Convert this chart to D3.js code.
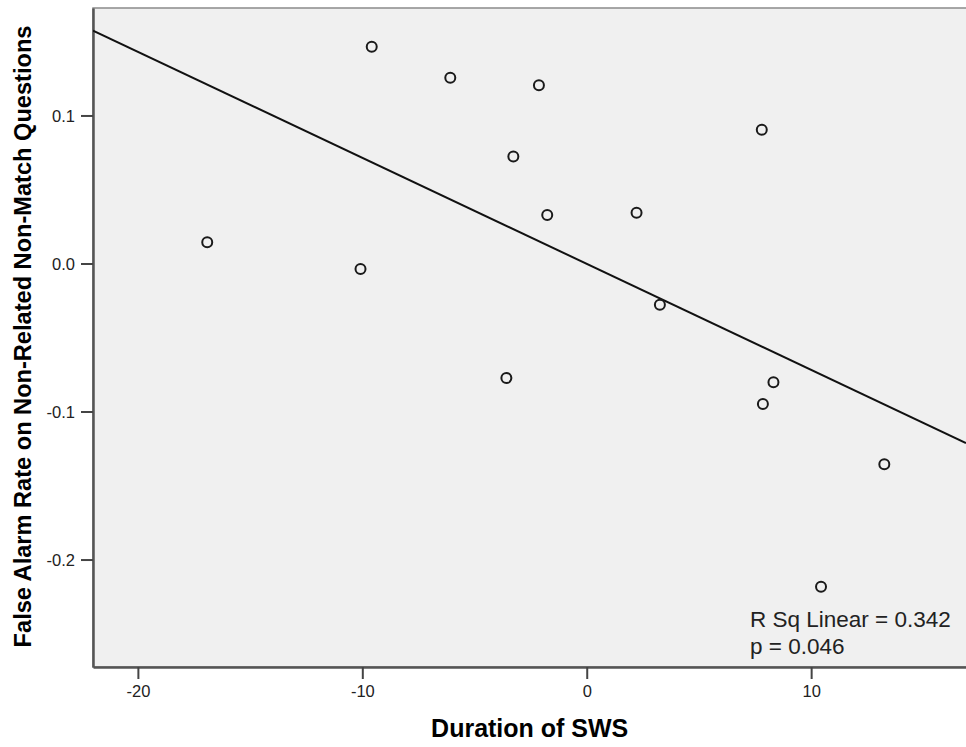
<!DOCTYPE html>
<html>
<head>
<meta charset="utf-8">
<script src="https://cdn.jsdelivr.net/npm/d3@7"></script>
<style>
  html, body { margin: 0; padding: 0; background: #ffffff; }
  svg { display: block; font-family: "Liberation Sans", Arial, sans-serif; }
</style>
</head>
<body>
<svg id="chart" width="966" height="747"></svg>
<script>
// ---- data ----
const swsDuration = [-9.58, -6.08, -2.13, -3.27, -1.76, 7.80, 2.22, -16.91, -10.08, 3.26, -3.58, 8.32, 7.85, 13.26, 10.44];
const falseAlarm  = [0.1465, 0.1255, 0.1204, 0.0722, 0.0328, 0.0904, 0.0343, 0.0143, -0.0037, -0.0278, -0.0774, -0.0803, -0.0949, -0.1357, -0.2184];
const xTicks = [-20, -10, 0, 10];
const yTicks = [0.1, 0.0, -0.1, -0.2];
const xDomain = [-22, 16.9];
const yDomain = [-0.2726, 0.1726];
const xTitle = "Duration of SWS";
const yTitle = "False Alarm Rate on Non-Related Non-Match Questions";
const annotation = ["R Sq Linear = 0.342", "p = 0.046"];

const svg = d3.select("#chart");
const plot = { left: 93, right: 966, top: 8, bottom: 667 };

const x = d3.scaleLinear().domain(xDomain).range([plot.left, plot.right]);
const y = d3.scaleLinear().domain(yDomain).range([plot.bottom, plot.top]);

const hyphen = f => d => f(d).replace("\u2212", "-");

// plot background
svg.append("rect")
  .attr("x", plot.left).attr("y", plot.top)
  .attr("width", plot.right - plot.left + 10)
  .attr("height", plot.bottom - plot.top)
  .attr("fill", "#f0f0f0")
  .attr("stroke", "#8a8a8a")
  .attr("stroke-width", 1.5);

svg.append("defs").append("clipPath").attr("id", "clip")
  .append("rect")
  .attr("x", plot.left).attr("y", plot.top)
  .attr("width", plot.right - plot.left)
  .attr("height", plot.bottom - plot.top);

// axes
const xAxis = d3.axisBottom(x).tickValues(xTicks).tickSize(12).tickSizeOuter(0).tickPadding(6).tickFormat(hyphen(d3.format("d")));
const yAxis = d3.axisLeft(y).tickValues(yTicks).tickSize(12).tickSizeOuter(0).tickPadding(6).tickFormat(hyphen(d3.format(".1f")));

const gx = svg.append("g").attr("transform", `translate(0,${plot.bottom})`).call(xAxis);
const gy = svg.append("g").attr("transform", `translate(${plot.left},0)`).call(yAxis);

[gx, gy].forEach(g => {
  g.select(".domain").attr("stroke", "#555").attr("stroke-width", 2.5);
  g.selectAll(".tick line").attr("stroke", "#444").attr("stroke-width", 2);
  g.selectAll(".tick text")
    .attr("fill", "#222")
    .style("font-size", "16.5px")
    .style("font-family", "'Liberation Sans', Arial, sans-serif");
});
gy.selectAll(".tick text").attr("dy", "0.36em");

// regression line (OLS computed from data)
const mx = d3.mean(swsDuration), my = d3.mean(falseAlarm);
let sxy = 0, sxx = 0;
swsDuration.forEach((v, i) => { sxy += (v - mx) * (falseAlarm[i] - my); sxx += (v - mx) * (v - mx); });
const slope = sxy / sxx, intercept = my - slope * mx;

svg.append("line")
  .attr("clip-path", "url(#clip)")
  .attr("x1", x(xDomain[0])).attr("y1", y(intercept + slope * xDomain[0]))
  .attr("x2", x(xDomain[1])).attr("y2", y(intercept + slope * xDomain[1]))
  .attr("stroke", "#111").attr("stroke-width", 2);

// points
svg.append("g").selectAll("circle")
  .data(swsDuration.map((v, i) => ({ x: v, y: falseAlarm[i] })))
  .join("circle")
  .attr("cx", d => x(d.x)).attr("cy", d => y(d.y))
  .attr("r", 5)
  .attr("fill", "none")
  .attr("stroke", "#1a1a1a")
  .attr("stroke-width", 2);

// annotation
svg.append("g").selectAll("text")
  .data(annotation)
  .join("text")
  .attr("x", 750)
  .attr("y", (d, i) => 627 + i * 26.5)
  .attr("fill", "#222")
  .style("font-size", "22.5px")
  .text(d => d);

// titles
svg.append("text")
  .attr("x", 529.7).attr("y", 737)
  .attr("text-anchor", "middle")
  .attr("fill", "#000")
  .style("font-size", "25px").style("font-weight", "bold")
  .text(xTitle);

svg.append("text")
  .attr("transform", "translate(31,336.5) rotate(-90)")
  .attr("text-anchor", "middle")
  .attr("fill", "#000")
  .style("font-size", "23.6px").style("font-weight", "bold")
  .text(yTitle);
</script>
</body>
</html>
